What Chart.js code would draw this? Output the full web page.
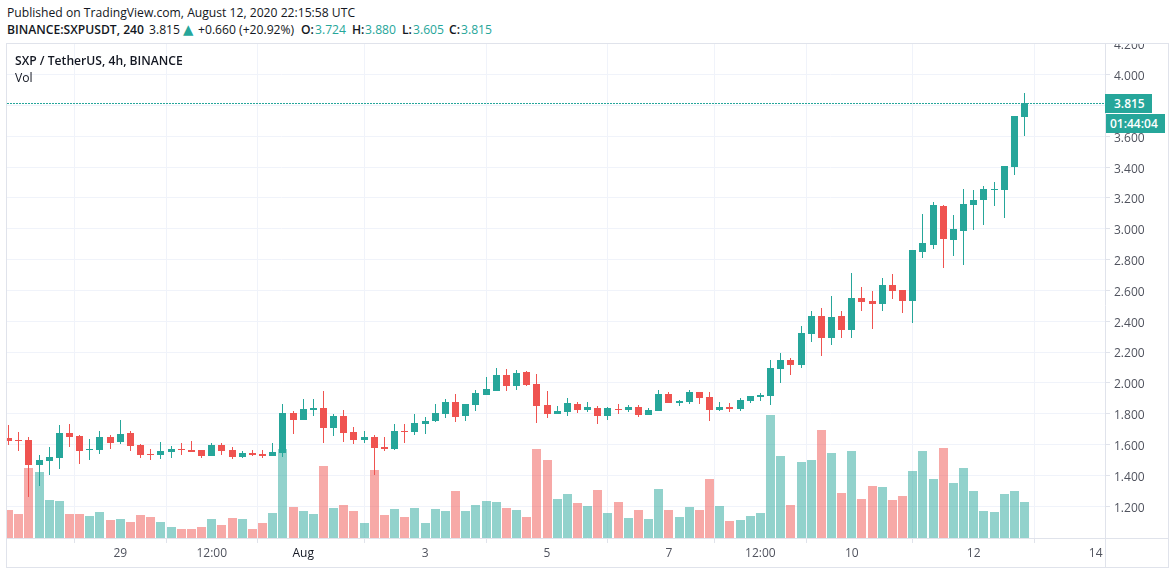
<!DOCTYPE html>
<html><head><meta charset="utf-8">
<script src="https://cdn.jsdelivr.net/npm/chart.js@4"></script>
<style>
html,body{margin:0;padding:0;background:#fff;width:1176px;height:574px;overflow:hidden;font-family:"Open Sans",sans-serif;color:#131722}
#c{position:absolute;left:0;top:43px}
.t{position:absolute;white-space:pre;font-size:12.15px;line-height:16px}
.s{font-weight:600}
.g{color:#26a69a}
.tag{position:absolute;background:#26a69a;color:#fff;font-size:12px;line-height:19px;height:19px;font-weight:600;text-align:left}
</style></head><body>
<canvas id="c" width="1176" height="531"></canvas>
<div class="t" style="left:7px;top:5px">Published on TradingView.com, August 12, 2020 22:15:58 UTC</div>
<div class="t s" style="left:7px;top:22px">BINANCE:SXPUSDT, 240</div>
<div class="t" style="left:149px;top:22px">3.815</div>
<div class="t g" style="left:183px;top:21px;font-family:'DejaVu Sans';font-size:13.5px">▲</div>
<div class="t" style="left:198px;top:22px">+0.660 (+20.92%)</div>
<div class="t s" style="left:301px;top:22px">O:</div>
<div class="t g" style="left:315px;top:22px">3.724</div>
<div class="t s" style="left:352px;top:22px">H:</div>
<div class="t g" style="left:365px;top:22px">3.880</div>
<div class="t s" style="left:402px;top:22px">L:</div>
<div class="t g" style="left:413px;top:22px">3.605</div>
<div class="t s" style="left:449px;top:22px">C:</div>
<div class="t g" style="left:461px;top:22px">3.815</div>
<div class="t s" style="left:15px;top:53px">SXP / TetherUS, 4h, BINANCE</div>
<div class="t" style="left:15px;top:70px">Vol</div>
<div class="tag" id="priceTag" style="left:1105px;width:38px;padding-left:9px">3.815</div>
<div class="tag" id="timeTag" style="left:1106px;width:55px;padding-left:4px">01:44:04</div>
<script>
const opens=[1.640,1.627,1.627,1.465,1.491,1.510,1.672,1.653,1.562,1.562,1.646,1.614,1.672,1.594,1.536,1.529,1.549,1.568,1.562,1.562,1.523,1.594,1.562,1.517,1.542,1.536,1.523,1.542,1.802,1.757,1.822,1.834,1.705,1.783,1.679,1.627,1.646,1.581,1.568,1.685,1.679,1.731,1.750,1.796,1.873,1.783,1.854,1.919,1.945,2.049,1.977,2.068,1.990,1.854,1.796,1.809,1.860,1.822,1.835,1.783,1.828,1.822,1.841,1.789,1.815,1.925,1.867,1.873,1.938,1.906,1.822,1.841,1.828,1.880,1.906,1.912,2.088,2.146,2.114,2.315,2.431,2.289,2.431,2.341,2.548,2.529,2.509,2.633,2.600,2.529,2.847,2.892,3.145,2.925,2.983,3.152,3.184,3.249,3.249,3.398,3.724];
const highs=[1.724,1.679,1.646,1.529,1.581,1.724,1.731,1.659,1.633,1.685,1.659,1.757,1.685,1.601,1.568,1.614,1.588,1.607,1.620,1.562,1.607,1.607,1.581,1.555,1.562,1.562,1.607,1.860,1.815,1.893,1.893,1.945,1.796,1.822,1.711,1.685,1.659,1.646,1.731,1.731,1.796,1.776,1.860,1.893,1.925,1.860,1.951,2.036,2.094,2.088,2.081,2.075,2.055,1.945,1.847,1.899,1.873,1.873,1.848,1.841,1.860,1.854,1.854,1.835,1.951,1.938,1.886,1.951,1.938,1.938,1.873,1.867,1.899,1.912,1.932,2.146,2.191,2.159,2.367,2.464,2.483,2.561,2.464,2.711,2.620,2.594,2.678,2.704,2.600,2.860,3.093,3.171,3.152,3.087,3.256,3.249,3.275,3.301,3.407,3.729,3.880];
const lows=[1.594,1.555,1.257,1.328,1.400,1.439,1.581,1.471,1.497,1.536,1.568,1.601,1.555,1.510,1.497,1.503,1.510,1.529,1.549,1.510,1.523,1.529,1.503,1.510,1.523,1.510,1.523,1.517,1.666,1.757,1.783,1.607,1.653,1.614,1.601,1.607,1.400,1.556,1.562,1.607,1.659,1.666,1.744,1.770,1.744,1.750,1.815,1.919,1.945,1.945,1.951,1.977,1.737,1.770,1.796,1.783,1.802,1.809,1.731,1.757,1.796,1.809,1.776,1.789,1.815,1.867,1.848,1.860,1.860,1.750,1.815,1.809,1.815,1.867,1.880,1.854,1.997,2.049,2.094,2.263,2.172,2.243,2.289,2.289,2.464,2.347,2.464,2.542,2.451,2.386,2.808,2.866,2.743,2.821,2.762,2.990,3.022,3.145,3.067,3.347,3.605];
const closes=[1.620,1.620,1.465,1.497,1.517,1.672,1.646,1.555,1.568,1.646,1.607,1.666,1.588,1.529,1.529,1.555,1.568,1.562,1.549,1.523,1.594,1.555,1.517,1.542,1.529,1.523,1.549,1.802,1.757,1.828,1.834,1.705,1.783,1.672,1.627,1.646,1.575,1.568,1.685,1.679,1.737,1.750,1.802,1.873,1.776,1.860,1.932,1.958,2.049,1.977,2.062,1.984,1.848,1.796,1.815,1.867,1.822,1.841,1.783,1.835,1.822,1.841,1.789,1.822,1.925,1.867,1.880,1.938,1.899,1.822,1.841,1.828,1.886,1.912,1.919,2.094,2.146,2.114,2.321,2.431,2.289,2.425,2.341,2.548,2.522,2.509,2.633,2.594,2.529,2.860,2.905,3.152,2.931,2.996,3.158,3.184,3.256,3.256,3.405,3.729,3.815];
const volumes=[28.3,24.3,70.3,66.3,38.3,37.3,24.3,24.3,22.3,26.3,18.3,19.3,16.3,23.3,21.3,16.3,11.3,9.3,9.3,11.3,19.3,13.3,20.3,19.3,9.3,15.3,25.3,89.3,31.3,27.3,24.3,72.3,30.3,33.3,27.3,15.3,68.3,23.3,29.3,21.3,30.3,15.3,29.3,27.3,47.3,27.3,33.3,37.3,36.3,30.3,28.3,21.3,89.3,78.3,39.3,44.3,35.3,32.3,48.3,25.3,36.3,20.3,28.3,19.3,49.3,28.3,21.3,31.3,28.3,59.3,32.3,17.3,18.3,22.3,25.3,123.3,82.3,33.3,76.3,78.3,108.3,85.3,45.3,87.3,39.3,52.3,51.3,38.3,42.3,67.3,87.3,59.3,90.3,55.3,70.3,47.3,27.3,26.3,44.3,47.3,36.3];
const timeTickPositions=[11,20,29,41,53,65,74,83,95,107];
const timeTickLabels=["29","12:00","Aug","3","5","7","12:00","10","12","14"];
const priceTicks=[1.2,1.4,1.6,1.8,2.0,2.2,2.4,2.6,2.8,3.0,3.2,3.4,3.6,3.8,4.0,4.2];
const lastPrice=3.815;

const UP='#26a69a',DOWN='#ef5350',UPV='rgba(38,166,154,.5)',DOWNV='rgba(239,83,80,.5)';
const isUp=i=>closes[i]>=opens[i];
const idx=opens.map((_,i)=>i);
const FRAME='#e0e3eb',GRID='#f0f3fa',FONT='"Open Sans",sans-serif';

const snap={id:'snap',beforeDatasetsDraw(c){
  c.data.datasets.forEach((d,n)=>{
    c.getDatasetMeta(n).data.forEach(el=>{
      el.x=Math.round(el.x-.5)+.5;
      let a=Math.round(el.y),b=Math.round(el.base);
      if(a===b)a=b-1;
      el.y=a;el.base=b;
    });
  });
}};
const deco={id:'deco',
  afterDatasetsDraw(c){
    const ctx=c.ctx,a=c.chartArea,y=Math.floor(c.scales.y.getPixelForValue(lastPrice))+.5;
    ctx.save();ctx.strokeStyle=UP;ctx.lineWidth=1;ctx.setLineDash([2,1]);
    ctx.beginPath();ctx.moveTo(a.left,y);ctx.lineTo(a.right,y);ctx.stroke();ctx.restore();
  },
  afterDraw(c){
    const ctx=c.ctx,a=c.chartArea;
    ctx.save();ctx.strokeStyle=FRAME;ctx.lineWidth=1;
    ctx.strokeRect(6.5,.5,1162,524);
    ctx.beginPath();
    ctx.moveTo(a.right+.5,.5);ctx.lineTo(a.right+.5,524.5);
    ctx.moveTo(6.5,a.bottom+.5);ctx.lineTo(1168.5,a.bottom+.5);
    ctx.stroke();ctx.restore();
  }
};
const noPad=s=>{s.paddingTop=0;s.paddingBottom=0;s.paddingLeft=0;s.paddingRight=0;};
const nudgeLabels=s=>{
  const f=s._computeLabelItems;
  s._computeLabelItems=function(a){const r=f.call(this,a);r.forEach(i=>{i.textOffset+=1;});return r;};
};
const chart=new Chart(document.getElementById('c'),{
  type:'bar',
  data:{datasets:[
    {label:'Body',order:1,yAxisID:'y',grouped:false,barThickness:7,minBarLength:1,inflateAmount:0,
     data:idx.map(i=>({x:i,y:[opens[i],closes[i]]})),
     backgroundColor:idx.map(i=>isUp(i)?UP:DOWN)},
    {label:'Wick',order:2,yAxisID:'y',grouped:false,barThickness:1,inflateAmount:0,
     data:idx.map(i=>({x:i,y:[lows[i],highs[i]]})),
     backgroundColor:idx.map(i=>isUp(i)?UP:DOWN)},
    {label:'Vol',order:3,yAxisID:'v',grouped:false,barThickness:9,inflateAmount:0,
     data:idx.map(i=>({x:i,y:volumes[i]})),
     backgroundColor:idx.map(i=>isUp(i)?UPV:DOWNV)}
  ]},
  options:{
    responsive:false,animation:false,devicePixelRatio:1,
    layout:{padding:{left:7,right:8,top:1,bottom:7}},
    plugins:{legend:{display:false},tooltip:{enabled:false}},
    scales:{
      x:{type:'linear',offset:false,min:-0.152,max:107.92,
        afterBuildTicks(s){s.ticks=timeTickPositions.map(v=>({value:v}));},
        afterFit(s){s.height=29;noPad(s);},
        grid:{color:GRID,tickColor:FRAME,tickLength:5},border:{display:false},
        ticks:{autoSkip:false,maxRotation:0,padding:3,font:{family:FONT,size:12},
          color:c=>c.tick&&c.tick.label==='Aug'?'#131722':'#50535e',
          callback:(v)=>timeTickLabels[timeTickPositions.indexOf(v)]}},
      y:{position:'right',min:0.9934,max:4.1991,
        afterBuildTicks(s){s.ticks=priceTicks.map(v=>({value:v}));},
        afterFit(s){s.width=63;noPad(s);nudgeLabels(s);},
        grid:{color:GRID,tickColor:FRAME,tickLength:5},border:{display:false},
        ticks:{padding:4,font:{family:FONT,size:12},color:'#50535e',callback:v=>v.toFixed(3)}},
      v:{display:false,min:0,max:494}
    }
  },
  plugins:[snap,deco]
});
const py=chart.scales.y.getPixelForValue(lastPrice)+43;
document.getElementById('priceTag').style.top=Math.round(py-9.5)+'px';
document.getElementById('timeTag').style.top=Math.round(py+10.5)+'px';
</script>
</body></html>
